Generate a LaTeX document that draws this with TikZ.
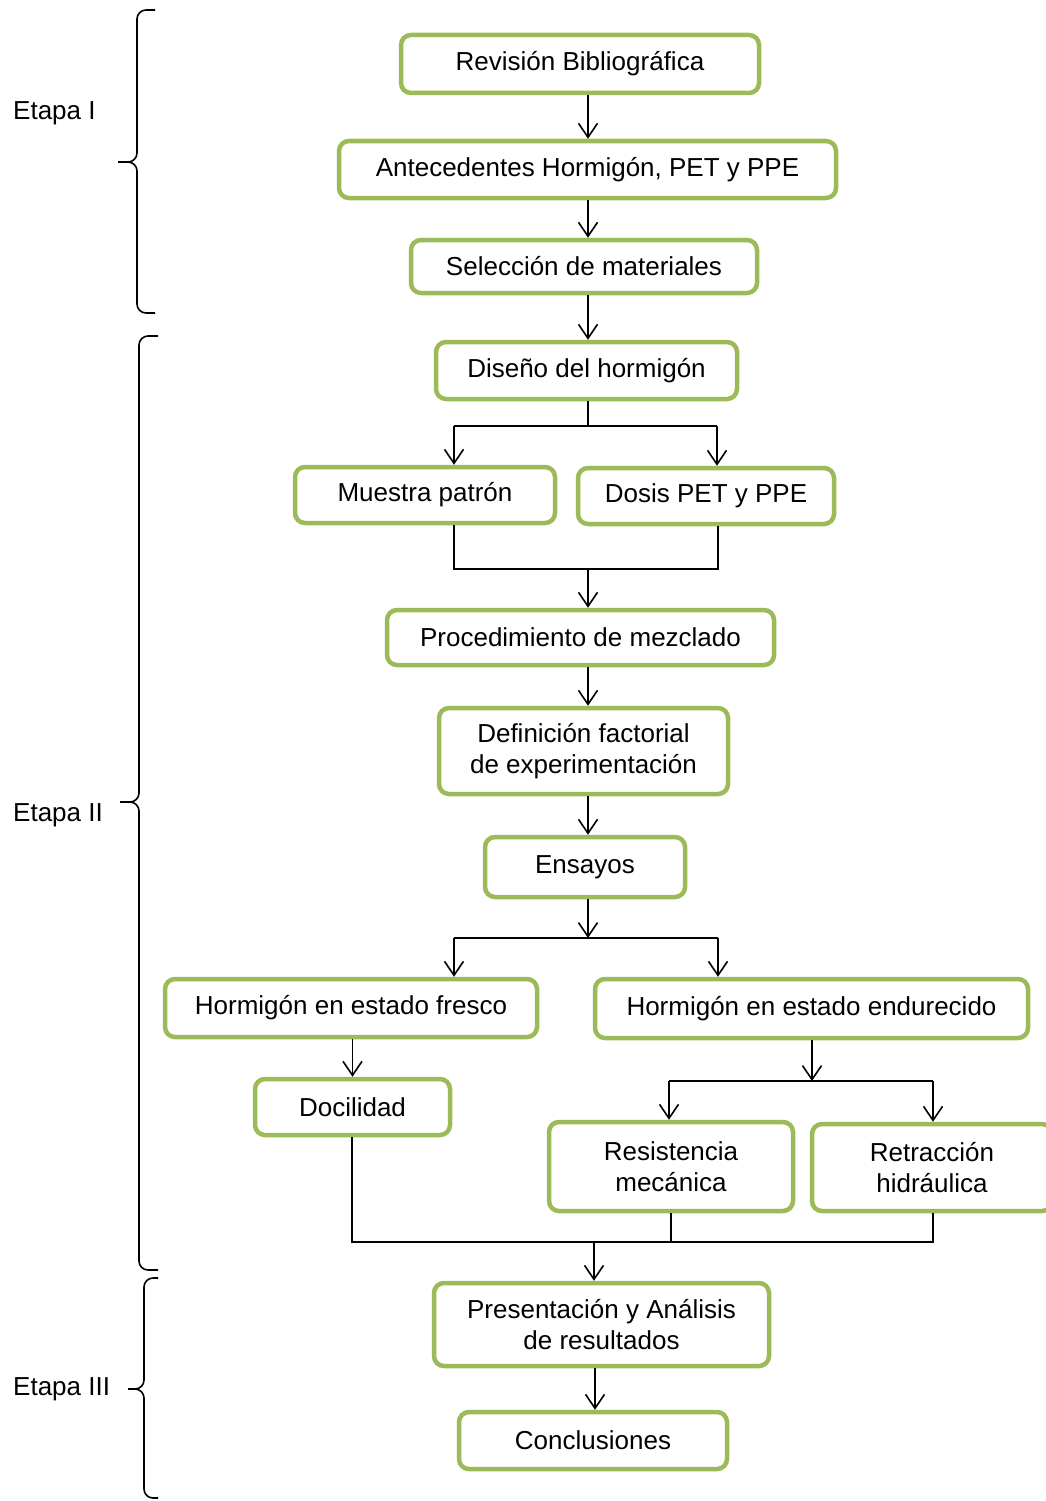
\documentclass[tikz,border=0pt]{standalone}
\usepackage{fontspec}
\setmainfont{Liberation Sans}
\usetikzlibrary{arrows.meta}
\definecolor{verde}{RGB}{155,187,89}
\tikzset{
paso/.style={draw=verde, line width=4.5pt, rounded corners=10pt, fill=white, align=center, inner sep=0pt, font=\fontsize{26}{31}\selectfont}, % cajas verdes
flecha/.style={-{Straight Barb[length=14pt,width=19pt]}, line width=1.6pt}, % flechas abiertas
linea/.style={line width=1.6pt},
llave/.style={line width=1.6pt, rounded corners=9pt},
etapa/.style={anchor=west, inner sep=0pt, font=\fontsize{26}{31}\selectfont},
}

\begin{document}
\begin{tikzpicture}[x=1pt, y=-1pt]
\useasboundingbox (0,0) rectangle (1045,1501);

% cajas
\node[paso, minimum width=358, minimum height=58] (rev) at (580,64) {Revisión Bibliográfica};
\node[paso, minimum width=497, minimum height=57] (ant) at (587.5,169.5) {Antecedentes Hormigón, PET y PPE};
\node[paso, minimum width=346, minimum height=53] (sel) at (584,266.5) {Selección de materiales};
\node[paso, minimum width=301, minimum height=57] (dis) at (586.5,370.5) {Diseño del hormigón};
\node[paso, minimum width=260, minimum height=56] (mue) at (425,495) {Muestra patrón};
\node[paso, minimum width=256, minimum height=56] (dos) at (706,496) {Dosis PET y PPE};
\node[paso, minimum width=387, minimum height=55] (pro) at (580.5,637.5) {Procedimiento de mezclado};
\node[paso, minimum width=289, minimum height=86] (def) at (583.5,751) {Definición factorial\\de experimentación};
\node[paso, minimum width=200, minimum height=60] (ens) at (585,867) {Ensayos};
\node[paso, minimum width=372, minimum height=58] (fre) at (351,1008) {Hormigón en estado fresco};
\node[paso, minimum width=433, minimum height=59] (endu) at (811.5,1008.5) {Hormigón en estado endurecido};
\node[paso, minimum width=195, minimum height=56] (doc) at (352.5,1107) {Docilidad};
\node[paso, minimum width=244, minimum height=89] (res) at (671,1166.5) {Resistencia\\mecánica};
\node[paso, minimum width=240, minimum height=87] (ret) at (932,1167.5) {Retracción\\hidráulica};
\node[paso, minimum width=335, minimum height=83] (pre) at (601.5,1324.5) {Presentación y Análisis\\de resultados};
\node[paso, minimum width=268, minimum height=57] (con) at (593,1440.5) {Conclusiones};

% etapas
\node[etapa] (e1) at (13,113) {Etapa I};
\node[etapa] (e2) at (13,815) {Etapa II};
\node[etapa] (e3) at (13,1389) {Etapa III};
\draw[llave] (155,10) -- (137,10) -- (137,162) -- (118,162);
\draw[llave] (118,162) -- (137,162) -- (137,313) -- (155,313);
\draw[llave] (158,336) -- (139,336) -- (139,802) -- (120,802);
\draw[llave] (120,802) -- (139,802) -- (139,1270) -- (158,1270);
\draw[llave] (158,1278) -- (144,1278) -- (144,1389) -- (128,1389);
\draw[llave] (128,1389) -- (144,1389) -- (144,1498) -- (158,1498);

% ejes de las flechas
\coordinate (eje) at (588,0);
\coordinate (s1) at (588,426);
\coordinate (s1l) at (454,426);
\coordinate (s1r) at (717,426);
\coordinate (j1) at (588,569);
\coordinate (j1l) at (454,569);
\coordinate (j1r) at (718,569);
\coordinate (s2) at (588,938);
\coordinate (s2l) at (454,938);
\coordinate (s2r) at (718,938);
\coordinate (s3) at (812,1081);
\coordinate (s3l) at (669,1081);
\coordinate (s3r) at (933,1081);
\coordinate (j2) at (594,1242);
\coordinate (j2l) at (352,1242);
\coordinate (j2r) at (933,1242);

\draw[flecha] (rev.south -| eje) -- (ant.north -| eje);
\draw[flecha] (ant.south -| eje) -- (sel.north -| eje);
\draw[flecha] (sel.south -| eje) -- (dis.north -| eje);

\draw[linea] (dis.south -| s1) -- (s1);
\draw[linea] (s1l) -- (s1r);
\draw[flecha] (s1l) -- (mue.north -| s1l);
\draw[flecha] (s1r) -- (dos.north -| s1r);

\draw[linea] (mue.south -| j1l) -- (j1l) -- (j1r) -- (dos.south -| j1r);
\draw[flecha] (j1) -- (pro.north -| j1);
\draw[flecha] (pro.south -| eje) -- (def.north -| eje);
\draw[flecha] (def.south -| eje) -- (ens.north -| eje);

\draw[flecha] (ens.south -| s2) -- (s2);
\draw[linea] (s2l) -- (s2r);
\draw[flecha] (s2l) -- (fre.north -| s2l);
\draw[flecha] (s2r) -- (endu.north -| s2r);

\draw[flecha] (fre.south -| doc) -- (doc.north);
\draw[flecha] (endu.south -| s3) -- (s3);
\draw[linea] (s3l) -- (s3r);
\draw[flecha] (s3l) -- (res.north -| s3l);
\draw[flecha] (s3r) -- (ret.north -| s3r);

\draw[linea] (doc.south -| j2l) -- (j2l) -- (j2r) -- (ret.south -| j2r);
\draw[linea] (res.south) -- (res.south |- j2);
\draw[flecha] (j2) -- (pre.north -| j2);
\draw[flecha] (pre.south -| 595,0) -- (con.north -| 595,0);

\end{tikzpicture}
\end{document}
